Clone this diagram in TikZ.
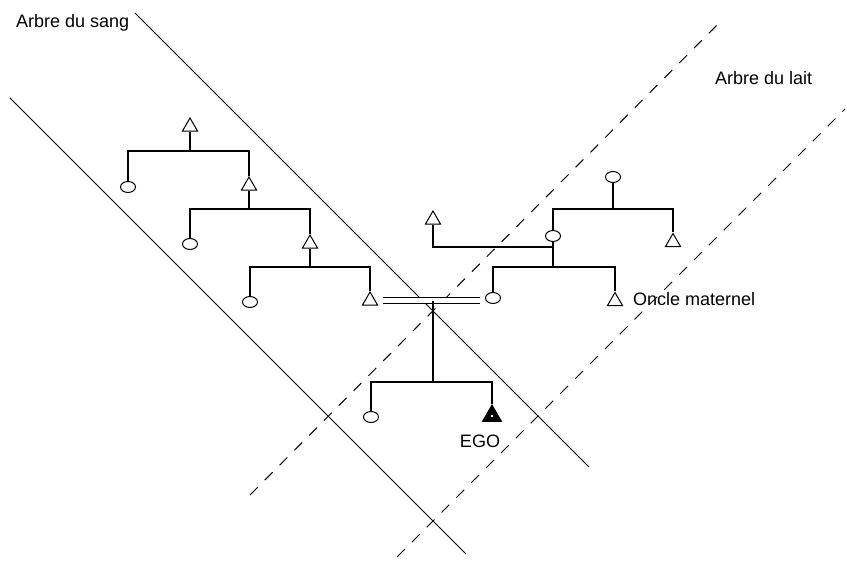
\documentclass[tikz,border=0pt]{standalone}
\usepackage{fontspec}
\setmainfont{Liberation Sans}
\usetikzlibrary{shapes.geometric}

\begin{document}
\begin{tikzpicture}[
    x=1pt, y=-1pt,
    male/.style={draw, regular polygon, regular polygon sides=3, minimum size=17.5pt,
                 inner sep=0pt, line width=1pt, fill=white},
    female/.style={draw, ellipse, minimum width=15pt, minimum height=11pt,
                   inner sep=0pt, line width=1pt, fill=white},
    ego/.style={male, fill=black, minimum size=22pt},
    kin/.style={line width=1.2pt},
    axe/.style={line width=1pt},
    milk/.style={axe, dash pattern=on 11pt off 10pt},
    lbl/.style={font=\fontsize{18}{20}\selectfont, inner sep=0pt}
  ]
  \useasboundingbox (0,0) rectangle (847,561);

  \draw[axe] (135,13) -- (589,467);
  \draw[axe] (10,98) -- (466,554);
  \draw[milk] (250,495) -- (723,19);
  \draw[milk] (397,557) -- (845,109);

  \coordinate (g1) at (0,151);
  \coordinate (g2) at (0,209);
  \coordinate (g3) at (0,267);
  \coordinate (g4) at (0,382);
  \coordinate (g5) at (0,267);
  \coordinate (g6) at (0,209);
  \coordinate (m1) at (0,247);
  \coordinate (wed) at (433,301.5);

  \node[male, anchor=north] (f1) at (190,117) {};
  \node[female] (s1) at (128,187) {};
  \node[male, anchor=north] (f2) at (249,176) {};
  \node[female] (s2) at (190,244) {};
  \node[male, anchor=north] (f3) at (310,234) {};
  \node[female] (s3) at (250,302) {};
  \node[male, anchor=north] (fa) at (370,291) {};
  \node[female] (mo) at (493,298) {};
  \node[female] (s4) at (371,417) {};
  \node[ego, anchor=north] (ego) at (492,404) {};
  \fill[white] (ego.center) circle (1.3pt);

  \node[male, anchor=north] (gf) at (433,210) {};
  \node[female] (gm) at (553,236) {};
  \node[female] (ggm) at (613,177) {};
  \node[male, anchor=north] (u2) at (673,232.5) {};
  \node[male, anchor=north] (u1) at (615,291.5) {};

  \draw[kin] (f1.south) -- (f1.south |- g1);
  \draw[kin] (s1.north) |- (f2.north |- g1) -- (f2.north);
  \draw[kin] (f2.south) -- (f2.south |- g2);
  \draw[kin] (s2.north) |- (f3.north |- g2) -- (f3.north);
  \draw[kin] (f3.south) -- (f3.south |- g3);
  \draw[kin] (s3.north) |- (fa.north |- g3) -- (fa.north);

  \draw[kin, double, double distance=4.6pt, shorten <=13pt, shorten >=13pt]
    (fa.center) -- (fa.center -| mo.center);
  \draw[kin] (wed) -- (wed |- g4);
  \draw[kin] (s4.north) |- (ego.north |- g4) -- (ego.north);

  \draw[kin] (mo.north) |- (u1.north |- g5) -- (u1.north);
  \draw[kin] (gf.south) |- (gm.south |- m1);
  \draw[kin] (gm.south) -- (gm.south |- g5);
  \draw[kin] (gm.north) |- (u2.north |- g6) -- (u2.north);
  \draw[kin] (ggm.south) -- (ggm.south |- g6);

  \node[lbl, anchor=base west] (sang) at (16,27.5) {Arbre du sang};
  \node[lbl, anchor=base west] (lait) at (715,84.5) {Arbre du lait};
  \node[lbl, anchor=base west] (oncle) at (633,305.5) {Oncle maternel};
  \node[lbl, anchor=base] (egolbl) at (480,447.5) {EGO};
\end{tikzpicture}
\end{document}
